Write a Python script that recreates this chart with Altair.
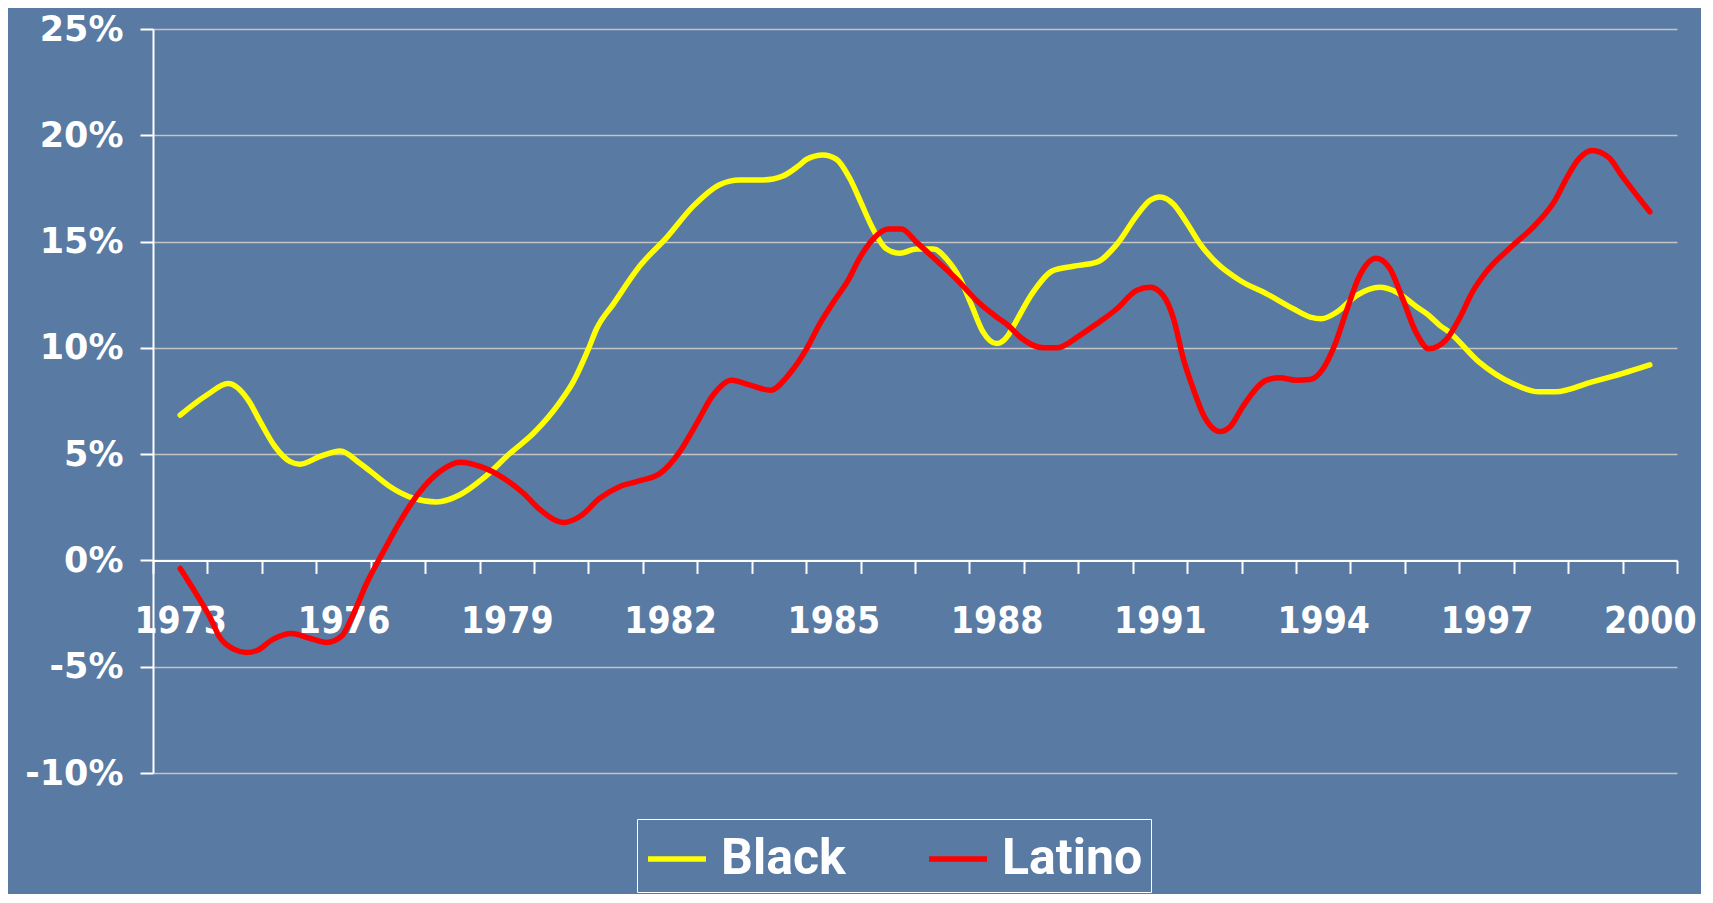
import altair as alt
import pandas as pd

# ---- data (year, % change) ----
black_year = [1973.00, 1973.49, 1973.88, 1974.25, 1974.47, 1974.74, 1975.02, 1975.20, 1975.57, 1975.94,
              1976.30, 1976.49, 1976.85, 1977.28, 1977.71, 1978.14, 1978.57, 1979.06, 1979.49, 1979.98,
              1980.22, 1980.50, 1980.65, 1980.96, 1981.45, 1981.94, 1982.43, 1982.92, 1983.28, 1983.71,
              1984.08, 1984.36, 1984.51, 1984.81, 1985.06, 1985.31, 1985.52, 1985.70, 1985.98, 1986.22,
              1986.53, 1986.84, 1987.08, 1987.33, 1987.54, 1987.75, 1988.00, 1988.21, 1988.30, 1988.67,
              1989.04, 1989.41, 1989.84, 1990.21, 1990.57, 1990.82, 1991.00, 1991.25, 1991.49, 1991.74,
              1992.04, 1992.47, 1992.96, 1993.45, 1993.76, 1993.97, 1994.25, 1994.61, 1995.04, 1995.35,
              1995.72, 1995.94, 1996.14, 1996.31, 1996.86, 1997.48, 1997.96, 1998.27, 1998.94, 1999.49,
              2000.00]
black_value = [6.84, 7.78, 8.32, 7.54, 6.53, 5.36, 4.65, 4.53, 4.89, 5.15,
               4.57, 4.20, 3.48, 2.93, 2.75, 3.09, 3.87, 5.04, 5.98, 7.46,
               8.40, 9.95, 10.90, 12.07, 13.87, 15.20, 16.68, 17.69, 17.90, 17.90,
               18.09, 18.56, 18.87, 19.07, 18.87, 17.93, 16.76, 15.74, 14.65, 14.45,
               14.65, 14.65, 14.18, 13.24, 12.00, 10.75, 10.20, 10.59, 10.98, 12.62,
               13.64, 13.84, 14.03, 14.88, 16.21, 16.94, 17.10, 16.76, 15.90, 14.88,
               14.00, 13.17, 12.54, 11.84, 11.45, 11.37, 11.68, 12.46, 12.85, 12.62,
               11.92, 11.53, 11.06, 10.75, 9.34, 8.32, 7.93, 7.93, 8.40, 8.79,
               9.20]

latino_year = [1973.00, 1973.30, 1973.55, 1973.73, 1973.98, 1974.22, 1974.40, 1974.71, 1975.05, 1975.38,
               1975.69, 1975.97, 1976.18, 1976.43, 1976.73, 1977.04, 1977.41, 1977.77, 1978.14, 1978.51,
               1978.94, 1979.30, 1979.61, 1980.04, 1980.35, 1980.71, 1981.08, 1981.45, 1981.82, 1982.18,
               1982.49, 1982.79, 1983.13, 1983.47, 1983.84, 1984.20, 1984.51, 1984.75, 1985.00, 1985.27,
               1985.49, 1985.73, 1986.01, 1986.25, 1986.53, 1986.90, 1987.26, 1987.63, 1988.00, 1988.21,
               1988.43, 1988.86, 1989.10, 1989.53, 1989.84, 1990.21, 1990.57, 1990.82, 1991.06, 1991.25,
               1991.43, 1991.61, 1991.80, 1992.01, 1992.10, 1992.29, 1992.54, 1992.96, 1993.20, 1993.50,
               1993.76, 1994.00, 1994.21, 1994.42, 1994.67, 1994.97, 1995.21, 1995.46, 1995.70, 1995.94,
               1996.25, 1996.50, 1996.74, 1996.99, 1997.48, 1997.91, 1998.27, 1998.46, 1998.70, 1998.94,
               1999.25, 1999.49, 2000.00]
latino_value = [-0.38, -1.60, -2.69, -3.63, -4.17, -4.33, -4.25, -3.70, -3.44, -3.66,
                -3.86, -3.55, -2.53, -1.05, 0.40, 1.84, 3.25, 4.18, 4.62, 4.42,
                3.87, 3.17, 2.39, 1.79, 2.08, 2.93, 3.48, 3.75, 4.10, 5.12,
                6.45, 7.78, 8.48, 8.25, 8.01, 8.80, 9.96, 11.13, 12.15, 13.17,
                14.26, 15.12, 15.59, 15.59, 14.96, 14.10, 13.24, 12.23, 11.45, 11.06,
                10.51, 10.00, 10.00, 10.59, 11.13, 11.84, 12.70, 12.85, 12.46, 11.37,
                9.49, 8.09, 6.84, 6.14, 6.06, 6.29, 7.31, 8.48, 8.59, 8.48,
                8.51, 9.03, 10.12, 11.68, 13.40, 14.21, 13.79, 12.31, 10.75, 9.96,
                10.36, 11.37, 12.62, 13.56, 14.81, 15.82, 16.99, 17.93, 18.90, 19.29,
                18.95, 18.09, 16.40]

series_names = ["Black", "Latino"]
series_colors = ["#ffff00", "#ff0000"]

label_years = [1973, 1976, 1979, 1982, 1985, 1988, 1991, 1994, 1997, 2000]
category_years = list(range(1973, 2001))
y_ticks = [-10, -5, 0, 5, 10, 15, 20, 25]

df = pd.concat([
    pd.DataFrame({"year": black_year, "value": black_value, "series": "Black", "k": 0}),
    pd.DataFrame({"year": latino_year, "value": latino_value, "series": "Latino", "k": 1}),
])

# tick values: year boundaries (ticks) and year centres (labels)
x_values = sorted(set([y - 0.5 for y in category_years] + [category_years[-1] + 0.5] + category_years))
label_test = " || ".join(f"datum.value == {y}" for y in label_years)

X_FONT = "'DejaVu Sans Condensed', 'DejaVu Sans', sans-serif"
Y_FONT = "'DejaVu Sans', sans-serif"
LEGEND_FONT = "Roboto, 'DejaVu Sans Condensed', sans-serif"

W, H = 1524, 744
ymin, ymax = -10, 25
x_offset = -H * (0 - ymin) / (ymax - ymin)

chart = alt.Chart(df).mark_line(
    strokeWidth=5.5, interpolate="monotone", strokeCap="round", strokeJoin="round"
).encode(
    x=alt.X("year:Q",
            scale=alt.Scale(domain=[1972.5, 2000.5], nice=False, zero=False),
            axis=alt.Axis(
                values=x_values, title=None, grid=False,
                labelExpr=f"({label_test}) ? '' + datum.value : ''",
                labelOverlap=False, labelFlush=False, labelBound=False,
                tickOpacity={"condition": {"test": "datum.value % 1 == 0", "value": 0}, "value": 1},
                tickSize=13, tickWidth=2, tickColor="white",
                domainColor="white", domainWidth=2,
                labelPadding=30, labelFontSize=37, labelFont=X_FONT,
                offset=x_offset,
            )),
    y=alt.Y("value:Q",
            scale=alt.Scale(domain=[ymin, ymax], nice=False, zero=False),
            axis=alt.Axis(
                values=y_ticks, title=None,
                labelExpr="datum.value + '%'",
                tickSize=13, tickWidth=2, tickColor="white",
                domainColor="white", domainWidth=2,
                gridColor="#c4c4c4", gridWidth=1.6,
                labelPadding=17, labelFontSize=35, labelFont=Y_FONT,
            )),
    color=alt.Color("series:N",
                    scale=alt.Scale(domain=series_names, range=series_colors),
                    legend=alt.Legend(
                        title=None, orient="none", legendX=484, legendY=790,
                        direction="horizontal",
                        symbolType="stroke", symbolStrokeWidth=5.5, symbolSize=3364,
                        labelFont=LEGEND_FONT, labelFontSize=50, labelFontWeight="bold",
                        labelColor="white", labelOffset=12, columnPadding=72,
                        strokeColor="white", padding=8,
                    )),
    order=alt.Order("k:Q"),
).properties(
    width=W, height=H,
    autosize=alt.AutoSizeParams(type="none"),
    padding={"left": 145, "top": 21, "right": 24, "bottom": 121},
    background="#587aa3",
).configure_view(
    stroke=None
).configure_axis(
    labelColor="white", labelFontWeight="bold",
)

chart.save("out.html", embed_options={"renderer": "svg", "actions": False})
